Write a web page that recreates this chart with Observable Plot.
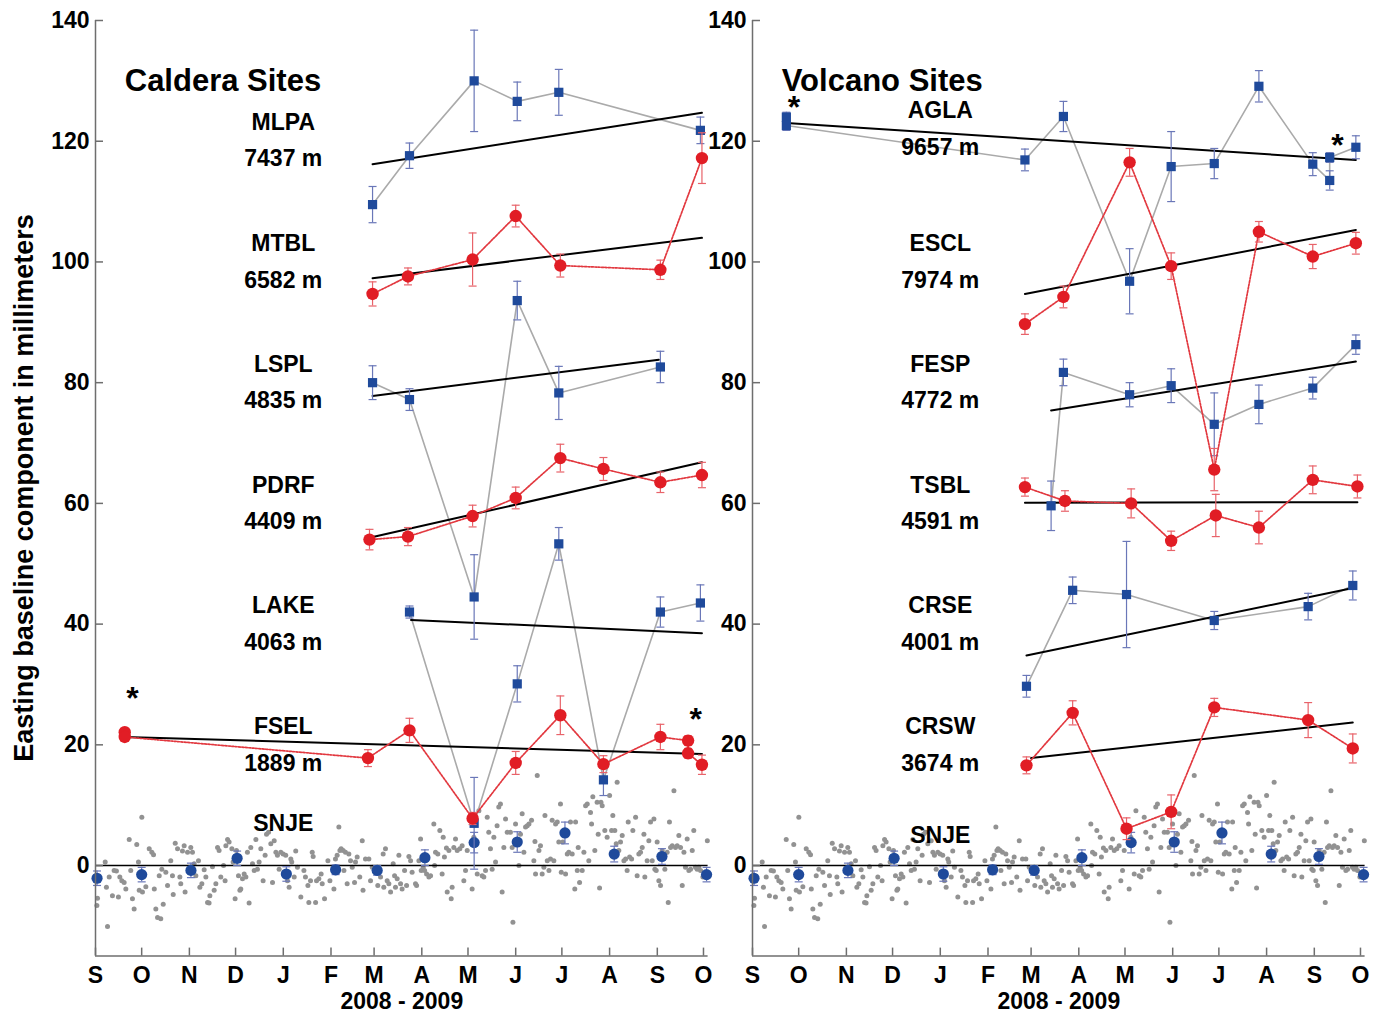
<!DOCTYPE html>
<html><head><meta charset="utf-8">
<script src="https://cdn.jsdelivr.net/npm/d3@7"></script>
<script src="https://cdn.jsdelivr.net/npm/@observablehq/plot@0.6"></script>
<style>
body{margin:0;background:#fff;font-family:"Liberation Sans",Arial,sans-serif;}
#wrap{position:relative;width:1384px;height:1015px;overflow:hidden;background:#fff;}
#left,#right{position:absolute;top:0;}
#left{left:0px}#right{left:657px}
#ylabel{position:absolute;left:24px;top:488px;transform:translate(-50%,-50%) rotate(-90deg);font-size:27px;font-weight:bold;white-space:nowrap;color:#000;}
</style></head><body>
<div id="wrap"><div id="left"></div><div id="right"></div><div id="ylabel">Easting baseline component in millimeters</div></div>
<script>
// ---------- data ----------
const yTicks = [0, 20, 40, 60, 80, 100, 120, 140];
const monthTicks = ["2008-09-01","2008-10-01","2008-11-01","2008-12-01","2009-01-01","2009-02-01","2009-03-01","2009-04-01","2009-05-01","2009-06-01","2009-07-01","2009-08-01","2009-09-01","2009-10-01"];
const monthLetters = ["S","O","N","D","J","F","M","A","M","J","J","A","S","O"];
const periodLabel = ["2008 - 2009"];

// [date, value mm, error mm]
const MLPA = [["2009-02-28",109.5,3.0],["2009-03-24",117.6,2.1],["2009-05-05",130.0,8.4],["2009-06-02",126.6,3.2],["2009-06-29",128.1,3.8],["2009-09-29",121.8,2.2]];
const MTBL = [["2009-02-28",94.7,2.0],["2009-03-23",97.6,1.4],["2009-05-04",100.4,4.4],["2009-06-01",107.6,1.8],["2009-06-30",99.4,1.9],["2009-09-03",98.7,1.6],["2009-09-30",117.2,4.2]];
const LSPL = [["2009-02-28",80.0,2.8],["2009-03-24",77.2,1.8],["2009-05-05",44.5,7.0],["2009-06-02",93.6,3.2],["2009-06-29",78.3,4.4],["2009-09-03",82.6,2.6]];
const PDRF = [["2009-02-26",54.0,1.7],["2009-03-23",54.5,1.5],["2009-05-04",57.9,1.8],["2009-06-01",60.9,1.8],["2009-06-30",67.5,2.3],["2009-07-28",65.7,1.9],["2009-09-03",63.5,1.7],["2009-09-30",64.7,2.1]];
const LAKE = [["2009-03-24",42.0,1.0],["2009-05-05",7.0,7.6],["2009-06-02",30.1,3.0],["2009-06-29",53.3,2.7],["2009-07-28",14.2,2.6],["2009-09-03",42.0,2.5],["2009-09-29",43.5,3.0]];
const FSEL = [["2008-09-20",22.1,0.6],["2008-09-20",21.3,0.6],["2009-02-25",17.8,1.4],["2009-03-24",22.4,2.0],["2009-05-04",7.8,1.0],["2009-06-01",17.0,1.9],["2009-06-30",24.9,3.2],["2009-07-28",16.8,1.4],["2009-09-03",21.3,2.1],["2009-09-21",20.7,0.8],["2009-09-21",18.6,0.8],["2009-09-30",16.7,1.6]];

const AGLA = [["2008-09-23",124.0,0.8],["2008-09-23",122.6,0.8],["2009-02-25",116.9,1.8],["2009-03-22",124.1,2.5],["2009-05-04",96.8,5.4],["2009-05-31",115.8,5.8],["2009-06-28",116.3,2.5],["2009-07-27",129.1,2.6],["2009-08-31",116.2,1.9],["2009-09-11",113.5,1.6],["2009-09-11",117.3,0.8],["2009-09-28",119.0,1.9]];
const ESCL = [["2009-02-25",89.7,1.7],["2009-03-22",94.2,1.8],["2009-05-04",116.5,2.3],["2009-05-31",99.3,2.2],["2009-06-28",65.6,3.5],["2009-07-27",105.0,1.7],["2009-08-31",100.9,2.0],["2009-09-28",103.1,1.8]];
const FESP = [["2009-03-14",59.6,4.1],["2009-03-22",81.7,2.2],["2009-05-04",78.0,2.0],["2009-05-31",79.5,2.8],["2009-06-28",73.1,5.2],["2009-07-27",76.4,3.2],["2009-08-31",79.1,1.8],["2009-09-28",86.3,1.6]];
const TSBL = [["2009-02-25",62.7,1.5],["2009-03-23",60.4,1.7],["2009-05-05",60.0,2.4],["2009-05-31",53.8,1.6],["2009-06-29",58.0,3.5],["2009-07-27",56.0,2.7],["2009-08-31",63.9,2.3],["2009-09-29",62.8,1.9]];
const CRSE = [["2009-02-26",29.7,1.8],["2009-03-28",45.6,2.2],["2009-05-02",44.9,8.8],["2009-06-28",40.6,1.5],["2009-08-28",42.9,2.2],["2009-09-26",46.4,2.4]];
const CRSW = [["2009-02-26",16.6,1.4],["2009-03-28",25.3,2.0],["2009-05-02",6.1,1.8],["2009-05-31",8.9,2.8],["2009-06-28",26.2,1.5],["2009-08-28",24.1,2.9],["2009-09-26",19.4,2.4]];

// linear trends: [site, start date, start value, end date, end value]
const calderaTrends = [["MLPA","2009-02-28",116.2,"2009-09-30",124.7],["MTBL","2009-02-28",97.3,"2009-09-30",104.0],["LSPL","2009-02-28",77.8,"2009-09-02",83.8],["PDRF","2009-02-26",54.3,"2009-09-30",66.8],["LAKE","2009-03-25",40.7,"2009-09-30",38.5],["FSEL","2008-09-20",21.3,"2009-09-30",18.5]];
const volcanoTrends = [["AGLA","2008-09-23",123.0,"2009-09-28",116.9],["ESCL","2009-02-25",94.7,"2009-09-28",105.3],["FESP","2009-03-14",75.4,"2009-09-28",83.5],["TSBL","2009-02-25",60.1,"2009-09-29",60.2],["CRSE","2009-02-26",34.8,"2009-09-23",45.8],["CRSW","2009-03-01",17.8,"2009-09-26",23.7]];

// site labels: [name, baseline length, y of name, y of length]
const calderaLabels = [["MLPA","7437 m",123.1,117.1],["MTBL","6582 m",103.0,96.9],["LSPL","4835 m",83.0,77.0],["PDRF","4409 m",63.0,57.0],["LAKE","4063 m",43.1,36.9],["FSEL","1889 m",23.0,16.9],["SNJE","",7.0,0]];
const volcanoLabels = [["AGLA","9657 m",125.1,119.0],["ESCL","7974 m",103.0,96.9],["FESP","4772 m",83.0,77.0],["TSBL","4591 m",63.0,57.0],["CRSE","4001 m",43.1,36.9],["CRSW","3674 m",23.0,16.9],["SNJE","",5.0,0]];
const calderaStars = [["2008-09-25",27.7],["2009-09-26",24.2]];
const volcanoStars = [["2008-09-28",125.5],["2009-09-16",119.2]];

// SNJE monthly means [date, value, error]
const snjeMonthly = [["2008-09-02",-2.1,1.2],["2008-10-01",-1.5,1.2],["2008-11-02",-0.8,1.2],["2008-12-02",1.2,1.2],["2009-01-03",-1.4,1.2],["2009-02-04",-0.7,0.8],["2009-03-03",-0.8,0.8],["2009-04-03",1.3,1.3],["2009-05-05",3.8,1.7],["2009-06-02",3.9,1.7],["2009-07-03",5.4,1.8],["2009-08-04",1.9,1.3],["2009-09-04",1.5,1.3],["2009-10-03",-1.5,1.2]];
// SNJE daily solutions [days after 2008-09-01, value]
const snjeDaily = [[0.9,-6.6],[1.3,-5.4],[6.3,0.6],[7.1,-3.6],[7.8,-10.1],[8.9,-1.9],[11.0,-5.0],[12.1,-0.8],[13.6,-0.9],[14.9,-5.2],[15.8,-1.9],[17.1,-2.5],[18.6,-2.8],[19.7,-3.9],[21.9,4.3],[22.9,-0.8],[24.0,-5.5],[25.1,-7.2],[26.8,3.5],[27.9,0.6],[28.4,-4.1],[30.1,8.0],[30.5,-4.4],[32.7,-3.5],[34.9,2.8],[36.6,2.2],[37.7,1.8],[38.2,-3.9],[39.2,-7.2],[40.3,-8.6],[41.4,-1.7],[42.4,-8.8],[43.1,-0.6],[44.0,-6.4],[45.7,-1.1],[46.8,-3.3],[48.9,0.8],[50.0,-1.7],[50.5,-4.8],[51.8,3.7],[53.3,2.8],[54.8,-1.9],[55.4,-3.0],[56.5,2.4],[57.6,3.3],[58.2,-4.4],[59.8,2.2],[61.9,3.0],[63.0,2.2],[64.1,0.3],[65.2,-1.7],[66.9,0.8],[67.8,-3.6],[69.1,-3.0],[70.6,-0.7],[71.7,-1.9],[72.8,-6.1],[73.8,-6.2],[74.3,-5.0],[76.0,-0.2],[77.1,-4.1],[78.2,-3.0],[79.3,3.0],[80.3,2.5],[81.4,-1.9],[83.2,0.0],[84.2,-2.5],[84.7,3.3],[85.8,4.3],[86.8,3.9],[88.6,2.8],[89.4,0.6],[90.7,-5.5],[91.6,2.5],[92.9,-1.7],[93.8,-4.1],[94.4,-3.9],[95.5,-2.2],[96.6,-1.4],[97.7,-1.9],[98.7,2.2],[99.8,-6.2],[100.9,3.0],[102.0,0.3],[103.1,-0.8],[104.2,4.3],[105.2,-0.6],[106.3,0.6],[107.4,2.8],[108.9,-2.5],[110.2,1.7],[111.1,5.2],[112.4,5.5],[113.9,3.6],[115.0,-2.8],[116.1,4.1],[117.2,2.2],[118.2,1.7],[119.3,-0.6],[120.4,2.2],[121.9,1.9],[123.6,1.7],[124.7,-2.5],[125.8,-3.6],[126.9,1.1],[127.5,0.6],[129.1,-1.9],[130.1,2.4],[131.2,-0.3],[133.4,-5.2],
[135.4,-0.8],[136.4,-1.9],[138.0,-3.3],[138.6,-6.1],[139.7,-2.5],[140.8,2.2],[141.4,1.5],[143.0,-6.1],[143.6,-2.5],[145.1,-2.2],[146.6,-1.4],[147.3,-3.0],[148.8,-5.5],[151.0,0.8],[152.3,-2.5],[154.9,-3.9],[155.9,1.1],[157.0,1.7],[158.1,6.4],[158.8,2.5],[159.6,2.8],[160.9,2.5],[161.4,-0.8],[162.4,2.2],[163.5,-3.0],[164.6,1.9],[165.7,0.8],[166.8,-0.3],[168.3,-2.8],[168.9,0.6],[170.0,1.4],[171.7,-1.9],[173.3,4.1],[173.8,-4.1],[175.4,1.1],[177.6,1.1],[178.7,-2.5],[179.8,-0.3],[183.4,-3.3],[185.2,-1.9],[186.9,1.9],[187.3,-3.6],[188.4,2.8],[189.5,-2.5],[190.6,-3.0],[191.7,-4.4],[193.4,0.3],[194.3,-1.7],[194.9,-3.6],[196.0,-2.2],[197.1,1.7],[198.2,-3.0],[199.2,-3.9],[200.8,-0.8],[202.1,-3.3],[203.6,1.5],[204.7,0.8],[205.7,-1.1],[207.9,-3.0],[208.6,-3.3],[210.1,0.8],[211.2,4.4],[211.6,-0.8],[212.9,-0.3],[213.8,-0.8],[215.1,-1.4],[216.6,-1.9],[217.7,-1.7],[219.8,6.9],[220.3,0.0],[220.9,2.2],[222.4,1.9],[223.7,5.8],[225.2,-1.4],[225.9,4.7],[226.7,1.4],[228.0,2.9],[228.5,-4.4],[229.6,2.5],[231.1,-5.5],[231.7,-3.6],[232.8,3.0],[233.9,4.4],[235.0,2.5],[236.7,2.8],[238.2,3.3],[239.3,-2.5],[240.4,-0.8],[241.5,2.5],[244.7,-3.9],[245.8,4.7],[248.0,-1.4],[249.1,9.1],[251.2,-1.7],[252.3,-1.9],[253.4,-0.8],[254.5,8.0],[255.5,5.5],[256.6,2.8],[257.7,-0.6],[258.8,4.7],[259.9,0.6],[260.9,6.6],[262.0,9.7],[263.1,10.2],[264.2,-4.4],[265.3,3.0],[266.4,7.7],[267.5,5.5],
[269.6,5.5],[270.7,3.0],[271.2,-9.4],[272.9,6.9],[275.1,0.0],[276.1,5.2],[277.2,8.6],[278.3,2.2],[279.4,6.4],[280.5,6.6],[281.6,6.9],[283.3,7.5],[284.8,0.8],[285.5,4.0],[285.9,-1.4],[287.0,14.9],[288.1,2.5],[289.1,3.3],[290.2,-1.4],[291.3,-0.3],[292.0,8.3],[293.5,0.8],[294.6,-0.8],[295.6,1.1],[296.7,7.5],[297.8,0.8],[298.9,6.9],[300.0,7.2],[301.0,3.9],[302.1,10.2],[302.6,-1.1],[303.6,3.9],[305.4,-1.4],[306.5,1.9],[307.5,2.2],[308.6,7.2],[309.7,1.9],[311.4,-3.9],[311.9,7.2],[313.0,-0.8],[313.6,3.0],[314.5,-2.8],[316.2,-0.8],[317.3,2.2],[318.4,9.9],[319.5,10.2],[320.5,0.8],[321.6,8.8],[322.3,6.9],[323.1,11.4],[324.4,2.5],[325.9,10.5],[326.6,5.2],[327.5,-3.7],[328.4,10.5],[329.2,9.9],[330.9,5.8],[332.4,4.7],[334.0,11.6],[335.3,5.8],[336.1,8.3],[337.4,5.8],[338.3,3.6],[338.9,13.8],[340.0,2.5],[341.1,3.9],[342.2,5.0],[343.3,0.8],[344.4,1.1],[345.4,-0.8],[346.1,7.2],[347.0,1.4],[348.3,1.1],[349.1,5.8],[350.9,8.0],[351.9,-1.7],[353.0,1.9],[354.1,2.2],[355.2,3.0],[356.3,5.2],[356.9,-1.9],[358.4,0.8],[359.5,4.1],[360.6,7.2],[361.7,0.8],[362.8,7.7],[363.4,-0.6],[364.3,-0.8],[364.9,3.9],[366.0,-2.5],[367.1,-3.3],[368.2,2.5],[369.9,-0.6],[371.4,2.2],[372.1,-6.1],[372.9,7.2],[373.6,3.0],[374.7,3.3],[375.8,12.4],[376.8,3.0],[377.9,3.3],[379.0,5.0],[380.1,3.0],[381.2,-3.3],[382.3,2.2],[383.3,-0.3],[384.4,4.4],[385.5,-0.8],[386.6,-0.6],[387.7,2.5],[388.7,5.8],[389.8,-0.3],[390.9,-0.6],[392.0,-0.3],[393.1,-0.8],[394.6,-1.9],[397.5,4.1]];

// ---------- helpers ----------
const parse = s => new Date(s + "T00:00:00Z");
const day0 = Date.UTC(2008, 8, 1);
const fromDay = d => new Date(day0 + d * 864e5);
const rows = arr => arr.map(([d, v, e]) => ({date: parse(d), v, e}));
const xDomain = [parse("2008-09-01"), parse("2009-10-04")];
const yDomain = [-15, 140];
const monthDates = monthTicks.map(parse);
const letterOf = new Map(monthDates.map((d, i) => [+d, monthLetters[i]]));
const capSymbol = {draw(ctx, size) { const r = Math.sqrt(size / Math.PI); ctx.moveTo(-r, 0); ctx.lineTo(r, 0); }};

const BLUE = "#1f4a9b", BLUE_ERR = "#6a77b8", RED = "#e11d25", RED_ERR = "#e8636a", RED_LINE = "#e2383f", GREY_LINE = "#aaaaaa", AXIS = "#6e6e6e";
const FONT = "'Liberation Sans', Arial, Helvetica, sans-serif";

function errMarks(data, color) {
  return [
    Plot.ruleX(data, {x: "date", y1: d => d.v - d.e, y2: d => d.v + d.e, stroke: color, strokeWidth: 1.2}),
    Plot.dot(data, {x: "date", y: d => d.v + d.e, symbol: capSymbol, r: 4, stroke: color, fill: "none", strokeWidth: 1.2}),
    Plot.dot(data, {x: "date", y: d => d.v - d.e, symbol: capSymbol, r: 4, stroke: color, fill: "none", strokeWidth: 1.2})
  ];
}

function panel({blue, red, trends, labels, stars, title}) {
  const W = 720, H = 1015, mL = 95, mR = 12.4, mT = 20, mB = 59.4;
  const plotW = W - mL - mR, plotH = H - mT - mB;
  const trendPts = trends.flatMap(([s, d1, v1, d2, v2]) => [{s, date: parse(d1), v: v1}, {s, date: parse(d2), v: v2}]);
  const labelX = parse("2009-01-01");
  const snjeM = rows(snjeMonthly);
  const marks = [
    Plot.dot(snjeDaily, {x: d => fromDay(d[0]), y: d => d[1], r: 2.5, fill: "#929292"}),
    Plot.ruleY([0], {stroke: "#000", strokeWidth: 1.6}),
    ...errMarks(snjeM, BLUE_ERR),
    Plot.dot(snjeM, {x: "date", y: "v", r: 5.6, fill: BLUE}),
    // axes
    Plot.ruleX([xDomain[0]], {stroke: AXIS, strokeWidth: 1.5}),
    Plot.ruleY([yDomain[0]], {stroke: AXIS, strokeWidth: 1.5}),
    Plot.tickY(yTicks, {y: d => d, insetRight: plotW - 8, stroke: AXIS, strokeWidth: 1.5}),
    Plot.tickX(monthDates, {x: d => d, insetTop: plotH - 8, stroke: AXIS, strokeWidth: 1.5}),
    Plot.axisY(yTicks, {label: null, tickSize: 0, tickPadding: 6, fontSize: 23, fontWeight: "bold", fill: "#000"}),
    Plot.axisX(monthDates, {label: null, tickSize: 0, tickPadding: 11, fontSize: 23, fontWeight: "bold", fill: "#000", tickFormat: d => letterOf.get(+d)}),
    Plot.text(periodLabel, {frameAnchor: "bottom", dy: 53, text: d => d, fontSize: 23, fontWeight: "bold", fill: "#000"})
  ];
  // blue series: grey lines
  for (const s of blue) marks.push(Plot.line(rows(s), {x: "date", y: "v", stroke: GREY_LINE, strokeWidth: 1.6}));
  // trends
  marks.push(Plot.line(trendPts, {x: "date", y: "v", z: "s", stroke: "#000", strokeWidth: 2}));
  for (const s of blue) {
    const r = rows(s);
    marks.push(...errMarks(r, BLUE_ERR));
    marks.push(Plot.dot(r, {x: "date", y: "v", symbol: "square", r: 5.2, fill: BLUE}));
  }
  for (const s of red) {
    const r = rows(s);
    marks.push(Plot.line(r, {x: "date", y: "v", stroke: RED_LINE, strokeWidth: 1.7, strokeDasharray: "2,1.4"}));
    marks.push(...errMarks(r, RED_ERR));
    marks.push(Plot.dot(r, {x: "date", y: "v", r: 6.2, fill: RED}));
  }
  // labels
  marks.push(Plot.text(labels, {x: () => labelX, y: d => d[2], text: d => d[0], fontSize: 23, fontWeight: "bold", fill: "#000"}));
  marks.push(Plot.text(labels.filter(d => d[1]), {x: () => labelX, y: d => d[3], text: d => d[1], fontSize: 23, fontWeight: "bold", fill: "#000"}));
  marks.push(Plot.text([title], {x: () => parse("2008-09-20"), y: () => 129.9, text: d => d, textAnchor: "start", fontSize: 31, fontWeight: "bold", fill: "#000"}));
  marks.push(Plot.text(stars, {x: d => parse(d[0]), y: d => d[1], text: () => "*", fontSize: 32, fontWeight: "bold", fill: "#000"}));
  return Plot.plot({
    width: W, height: H, marginLeft: mL, marginRight: mR, marginTop: mT, marginBottom: mB,
    x: {type: "utc", domain: xDomain},
    y: {domain: yDomain},
    style: {fontFamily: FONT, background: "transparent", overflow: "visible", color: "#000"},
    marks
  });
}

document.getElementById("left").append(panel({
  blue: [MLPA, LSPL, LAKE], red: [MTBL, PDRF, FSEL], trends: calderaTrends,
  labels: calderaLabels, stars: calderaStars, title: "Caldera Sites"
}));
document.getElementById("right").append(panel({
  blue: [AGLA, FESP, CRSE], red: [ESCL, TSBL, CRSW], trends: volcanoTrends,
  labels: volcanoLabels, stars: volcanoStars, title: "Volcano Sites"
}));
</script></body></html>
